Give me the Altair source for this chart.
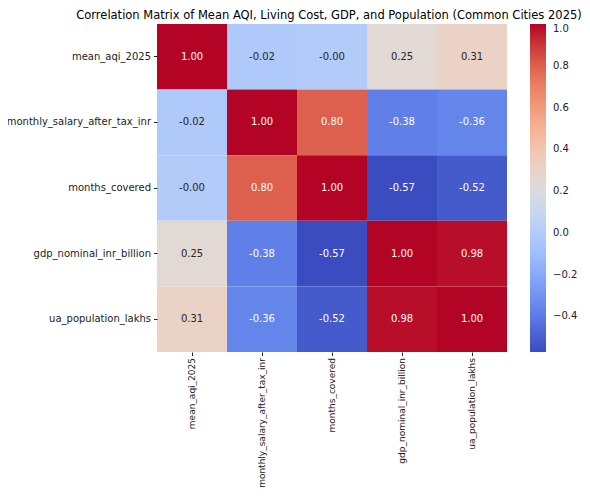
import altair as alt
import pandas as pd
import numpy as np

variables = [
    "mean_aqi_2025",
    "monthly_salary_after_tax_inr",
    "months_covered",
    "gdp_nominal_inr_billion",
    "ua_population_lakhs",
]
row_mean_aqi = [1.00, -0.02, -0.004, 0.25, 0.31]
row_salary = [-0.02, 1.00, 0.80, -0.38, -0.36]
row_months = [-0.004, 0.80, 1.00, -0.57, -0.52]
row_gdp = [0.25, -0.38, -0.57, 1.00, 0.98]
row_pop = [0.31, -0.36, -0.52, 0.98, 1.00]
matrix = [row_mean_aqi, row_salary, row_months, row_gdp, row_pop]

legend_ticks = [-0.4, -0.2, 0.0, 0.2, 0.4, 0.6, 0.8, 1.0]

coolwarm = ["#3b4cc0", "#5977e3", "#7b9ff9", "#9ebeff", "#c0d4f5", "#dddcdc",
            "#f2cbb7", "#f7ac8e", "#ee8468", "#d65244", "#b40426"]

records = []
for i, rname in enumerate(variables):
    for j, cname in enumerate(variables):
        v = matrix[i][j]
        records.append({"row": rname, "col": cname, "value": v, "label": f"{v:.2f}"})
df = pd.DataFrame(records)

vmin = min(min(r) for r in matrix)
vmax = max(max(r) for r in matrix)
dom = [float(x) for x in np.linspace(vmin, vmax, len(coolwarm))]

FONT = "DejaVu Sans"

base = alt.Chart(df).encode(
    x=alt.X("col:N", sort=variables, title=None,
            axis=alt.Axis(labelAngle=-90, labelFontSize=9, labelFont=FONT,
                          labelColor="#222222", tickColor="#222222", tickSize=3.5,
                          labelPadding=2, domain=False)),
    y=alt.Y("row:N", sort=variables, title=None,
            axis=alt.Axis(labelFontSize=10, labelFont=FONT, labelColor="#222222",
                          tickColor="#222222", tickSize=3.5, labelPadding=3,
                          domain=False)),
)

rects = base.mark_rect().encode(
    color=alt.Color(
        "value:Q",
        scale=alt.Scale(domain=dom, range=coolwarm, interpolate="rgb"),
        legend=alt.Legend(
            orient="none", legendX=373, legendY=0, direction="vertical",
            gradientLength=328, gradientThickness=16, gradientStrokeWidth=0,
            title=None, values=legend_ticks, format=".1f",
            labelFontSize=10, labelFont=FONT, labelColor="#222222",
            labelOffset=7, labelOverlap=False,
        ),
    )
)

texts = base.mark_text(fontSize=10, font=FONT).encode(
    text="label:N",
    color=alt.condition("datum.value < -0.3 || datum.value > 0.6",
                        alt.value("#ffffff"), alt.value("#262626")),
)

chart = (rects + texts).properties(
    width=350,
    height=328,
    title=alt.TitleParams(
        "Correlation Matrix of Mean AQI, Living Cost, GDP, and Population (Common Cities 2025)",
        fontSize=11.5, font=FONT, fontWeight="normal", anchor="middle", offset=3,
        dx=-3, color="#000000",
    ),
    autosize=alt.AutoSizeParams(type="none"),
    padding={"left": 149, "top": 16, "right": 74, "bottom": 139},
).configure_view(stroke=None).configure_axis(grid=False)

chart.save("out.html", embed_options={"renderer": "svg", "actions": False})
